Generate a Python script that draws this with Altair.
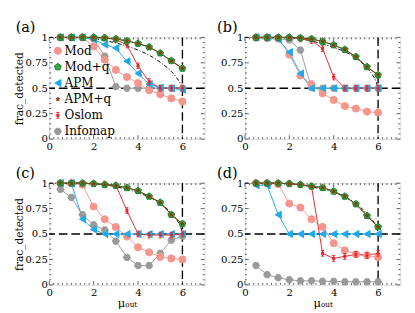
import altair as alt
import pandas as pd

FONT = "DejaVu Serif"

x_vals = [0.5, 1, 1.5, 2, 2.5, 3, 3.5, 4, 4.5, 5, 5.5, 6]
theory_x = [0, 0.5, 1, 1.5, 2, 2.5, 3, 3.5, 4, 4.5, 5, 5.5, 5.75, 5.9, 6]
x_ticks = [0, 2, 4, 6]
y_ticks = [0, 0.25, 0.5, 0.75, 1]
x_minor = [0.2, 0.4, 0.6, 0.8, 1.0, 1.2, 1.4, 1.6, 1.8, 2.2, 2.4, 2.6, 2.8, 3.0, 3.2, 3.4,
           3.6, 3.8, 4.2, 4.4, 4.6, 4.8, 5.0, 5.2, 5.4, 5.6, 5.8, 6.2, 6.4, 6.6, 6.8]
y_minor = [0.05, 0.1, 0.15, 0.2, 0.3, 0.35, 0.4, 0.45, 0.55, 0.6, 0.65, 0.7,
           0.8, 0.85, 0.9, 0.95]
threshold_x = 6
threshold_y = 0.5

series_names = ["Mod", "Mod+q", "APM", "APM+q", "Oslom", "Infomap"]
draw_order = ["Infomap", "Mod", "APM", "Oslom", "Mod+q", "APM+q"]

# panel (a)
a_mod = [1, 1, 1, 0.91, 0.78, 0.68, 0.61, 0.55, 0.48, 0.44, 0.40, 0.37]
a_modq = [1, 1, 1, 1, 0.995, 0.985, 0.965, 0.94, 0.905, 0.845, 0.77, 0.695]
a_apm = [1, 1, 1, 0.98, 0.93, 0.895, 0.765, 0.645, 0.54, 0.505, 0.50, 0.485]
a_apmq = [1, 1, 1, 1, 0.995, 0.985, 0.965, 0.94, 0.905, 0.845, 0.77, 0.695]
a_oslom = [1, 1, 1, 1, 0.995, 0.98, 0.925, 0.72, 0.565, 0.50, 0.50, 0.50]
a_oslom_err = [0.005, 0.005, 0.005, 0.005, 0.008, 0.01, 0.015, 0.02, 0.015, 0.008, 0.005, 0.005]
a_infomap = [1, 1, 1, 0.985, 0.815, 0.515, 0.50, 0.50, 0.50, 0.50, 0.50, 0.50]
a_theory = [1, 1, 1, 0.995, 0.985, 0.97, 0.945, 0.915, 0.875, 0.825, 0.755, 0.665, 0.60, 0.55, 0.50]

# panel (b)
b_mod = [1, 1, 0.99, 0.83, 0.625, 0.54, 0.45, 0.385, 0.325, 0.30, 0.27, 0.26]
b_modq = [1, 1, 1, 1, 0.995, 0.985, 0.96, 0.925, 0.88, 0.81, 0.71, 0.63]
b_apm = [1, 1, 0.98, 0.855, 0.645, 0.50, 0.50, 0.50, 0.50, 0.50, 0.50, 0.50]
b_apmq = [1, 1, 1, 1, 0.995, 0.985, 0.96, 0.925, 0.88, 0.81, 0.71, 0.63]
b_oslom = [1, 1, 1, 1, 0.985, 0.97, 0.89, 0.61, 0.50, 0.50, 0.50, 0.50]
b_oslom_err = [0.005, 0.005, 0.005, 0.008, 0.01, 0.012, 0.015, 0.015, 0.008, 0.005, 0.005, 0.005]
b_infomap = [0.995, 0.99, 0.985, 0.975, 0.875, 0.505, 0.50, 0.50, 0.50, 0.50, 0.50, 0.50]
b_theory = [1, 1, 1, 1, 0.995, 0.985, 0.965, 0.935, 0.90, 0.86, 0.795, 0.70, 0.63, 0.57, 0.50]

# panel (c)
c_mod = [1, 1, 0.985, 0.77, 0.645, 0.57, 0.475, 0.37, 0.32, 0.275, 0.26, 0.25]
c_modq = [1, 1, 1, 0.995, 0.985, 0.975, 0.955, 0.925, 0.87, 0.81, 0.69, 0.60]
c_apm = [1, 1, 0.645, 0.545, 0.50, 0.50, 0.50, 0.50, 0.50, 0.50, 0.50, 0.50]
c_apmq = [1, 1, 1, 0.995, 0.985, 0.975, 0.955, 0.925, 0.87, 0.81, 0.69, 0.60]
c_oslom = [1, 1, 1, 0.995, 0.99, 0.98, 0.73, 0.50, 0.49, 0.49, 0.49, 0.50]
c_oslom_err = [0.005, 0.005, 0.005, 0.005, 0.008, 0.01, 0.02, 0.012, 0.01, 0.01, 0.01, 0.01]
c_infomap = [0.94, 0.86, 0.69, 0.59, 0.54, 0.43, 0.27, 0.19, 0.19, 0.31, 0.44, 0.48]
c_theory = [1, 1, 1, 1, 0.995, 0.985, 0.965, 0.94, 0.905, 0.865, 0.80, 0.705, 0.64, 0.58, 0.52]

# panel (d)
d_mod = [1, 1, 0.99, 0.80, 0.76, 0.645, 0.57, 0.41, 0.34, 0.30, 0.29, 0.27]
d_modq = [1, 1, 1, 0.995, 0.985, 0.97, 0.955, 0.92, 0.87, 0.795, 0.68, 0.57]
d_apm = [0.98, 0.98, 0.69, 0.50, 0.50, 0.50, 0.50, 0.50, 0.50, 0.50, 0.50, 0.50]
d_apmq = [1, 1, 1, 0.995, 0.985, 0.97, 0.955, 0.92, 0.87, 0.795, 0.68, 0.57]
d_oslom = [1, 1, 1, 0.995, 0.985, 0.97, 0.31, 0.26, 0.28, 0.30, 0.29, 0.31]
d_oslom_err = [0.005, 0.005, 0.005, 0.005, 0.008, 0.01, 0.02, 0.015, 0.012, 0.012, 0.012, 0.015]
d_infomap = [0.19, 0.10, 0.07, 0.05, 0.04, 0.04, 0.035, 0.035, 0.03, 0.03, 0.03, 0.03]
d_theory = [1, 1, 1, 1, 0.995, 0.985, 0.965, 0.94, 0.91, 0.865, 0.80, 0.70, 0.635, 0.58, 0.52]

PENTAGON = "M0,-1L0.951,-0.309L0.588,0.809L-0.588,0.809L-0.951,-0.309Z"
STAR = ("M0,-0.55L0.13,-0.178L0.523,-0.17L0.209,0.068L0.323,0.445L0,0.22"
        "L-0.323,0.445L-0.209,0.068L-0.523,-0.17L-0.13,-0.178Z")
HEXAGON = "M1,0L0.5,0.866L-0.5,0.866L-1,0L-0.5,-0.866L0.5,-0.866Z"
IBEAM = "M-0.45,-0.8L0.45,-0.8M0,-0.8L0,0.8M-0.45,0.8L0.45,0.8M-0.3,-0.3L0.3,-0.3L0.3,0.3L-0.3,0.3Z"

shape_range = ["circle", PENTAGON, "triangle-left", STAR, IBEAM, HEXAGON]
fill_range = ["#F5958D", "#2FA940", "#1FA9EA", "#8B3A10", "#E8262C", "#9A9A9A"]
stroke_range = ["#F5958D", "#1C7A2B", "#1FA9EA", "#8B3A10", "#E8262C", "#9A9A9A"]
line_range = ["#F5958D", "#1C7A2B", "#1FA9EA", "#8B3A10", "#E8262C", "#9A9A9A"]

W = 162
H = 106


def series_enc():
    return dict(
        shape=alt.Shape("series:N", scale=alt.Scale(domain=series_names, range=shape_range),
                        legend=None),
        fill=alt.Fill("series:N", scale=alt.Scale(domain=series_names, range=fill_range),
                      legend=None),
        stroke=alt.Stroke("series:N", scale=alt.Scale(domain=series_names, range=stroke_range),
                          legend=None),
    )


def make_panel(label, dx, vals, err, theory, show_legend, ytitle, xtitle):
    rows = []
    for name in draw_order:
        for xv, yv in zip(x_vals, vals[name]):
            rows.append({"x": xv, "y": yv, "series": name})
    df = pd.DataFrame(rows)
    edf = pd.DataFrame({"x": x_vals,
                        "lo": [v - e for v, e in zip(vals["Oslom"], err)],
                        "hi": [v + e for v, e in zip(vals["Oslom"], err)]})
    tdf = pd.DataFrame({"x": theory_x, "y": theory})

    xaxis = alt.Axis(values=x_ticks, ticks=False, domain=False, grid=False,
                     labelFont=FONT, labelFontSize=10.5, labelColor="black",
                     labelPadding=3, labelFlush=False,
                     title=xtitle if xtitle else "",
                     titleFont=FONT, titleFontSize=12, titleFontWeight="normal",
                     titleColor="black", titlePadding=0)
    yaxis = alt.Axis(values=y_ticks, labelExpr="toString(datum.value)", ticks=False,
                     domain=False, grid=False,
                     labelFont=FONT, labelFontSize=10.5, labelColor="black",
                     labelPadding=2, labelFlush=False,
                     title=ytitle if ytitle else "",
                     titleFont=FONT, titleFontSize=11, titleFontWeight="normal",
                     titleColor="black", titlePadding=1)
    xs = alt.Scale(domain=[0, 7], nice=False, zero=False)
    ys = alt.Scale(domain=[0, 1], nice=False, zero=False)

    def X(f):
        return alt.X(f, type="quantitative", scale=xs, axis=xaxis)

    def Y(f):
        return alt.Y(f, type="quantitative", scale=ys, axis=yaxis)

    tick_style = dict(color="#333333", strokeWidth=0.8)
    xmaj = alt.Chart(pd.DataFrame({"x": x_ticks})).encode(x=X("x"))
    xmin = alt.Chart(pd.DataFrame({"x": x_minor})).encode(x=X("x"))
    ymaj = alt.Chart(pd.DataFrame({"y": y_ticks})).encode(y=Y("y"))
    ymin = alt.Chart(pd.DataFrame({"y": y_minor})).encode(y=Y("y"))
    tick_layers = [
        xmaj.mark_rule(**tick_style).encode(y=alt.value(H), y2=alt.value(H - 4)),
        xmaj.mark_rule(**tick_style).encode(y=alt.value(0), y2=alt.value(4)),
        xmin.mark_rule(**tick_style).encode(y=alt.value(H), y2=alt.value(H - 2)),
        xmin.mark_rule(**tick_style).encode(y=alt.value(0), y2=alt.value(2)),
        ymaj.mark_rule(**tick_style).encode(x=alt.value(0), x2=alt.value(4)),
        ymaj.mark_rule(**tick_style).encode(x=alt.value(W), x2=alt.value(W - 4)),
        ymin.mark_rule(**tick_style).encode(x=alt.value(0), x2=alt.value(2)),
        ymin.mark_rule(**tick_style).encode(x=alt.value(W), x2=alt.value(W - 2)),
    ]

    hrule = alt.Chart(pd.DataFrame({"y": [threshold_y]})).mark_rule(
        color="black", strokeWidth=1.4, strokeDash=[9, 4]).encode(y=Y("y"))
    vrule = alt.Chart(pd.DataFrame({"x": [threshold_x]})).mark_rule(
        color="black", strokeWidth=1.4, strokeDash=[9, 4]).encode(x=X("x"))
    theory_line = alt.Chart(tdf).mark_line(
        color="black", strokeWidth=1, strokeDash=[4, 2, 1, 2], interpolate="monotone"
    ).encode(x=X("x"), y=Y("y"))
    lines = alt.Chart(df).mark_line(strokeWidth=1).encode(
        x=X("x"), y=Y("y"),
        color=alt.Color("series:N", scale=alt.Scale(domain=series_names, range=line_range),
                        legend=None))
    ebars = alt.Chart(edf).mark_rule(color="#E8262C", strokeWidth=1).encode(
        x=X("x"), y=Y("lo"), y2="hi")
    pts = alt.Chart(df).mark_point(filled=True, size=55, strokeWidth=1, opacity=1).encode(
        x=X("x"), y=Y("y"), **series_enc())

    main = alt.layer(*tick_layers, hrule, vrule, theory_line, lines, ebars, pts)

    if show_legend:
        legdf = pd.DataFrame({"series": series_names, "row": list(range(len(series_names)))})
        ry = alt.Y("row:Q", scale=alt.Scale(domain=[0, len(series_names) - 1], range=[14, 98]),
                   axis=None)
        leg_pts = alt.Chart(legdf).mark_point(filled=True, size=55, strokeWidth=1,
                                              opacity=1).encode(
            x=alt.value(9), y=ry, **series_enc())
        leg_txt = alt.Chart(legdf).mark_text(align="left", baseline="middle", font=FONT,
                                             fontSize=12.5, color="black").encode(
            x=alt.value(16), y=ry, text="series:N")
        main = alt.layer(main, leg_pts, leg_txt).resolve_scale(y="independent")

    return main.properties(
        width=W, height=H,
        title=alt.TitleParams(label, anchor="start", frame="group", dx=dx, dy=7, fontSize=15,
                              font=FONT, fontWeight="normal", color="black", offset=4),
    )


def vals_of(mod, modq, apm, apmq, oslom, infomap):
    return {"Mod": mod, "Mod+q": modq, "APM": apm, "APM+q": apmq,
            "Oslom": oslom, "Infomap": infomap}


pa = make_panel("(a)", -35, vals_of(a_mod, a_modq, a_apm, a_apmq, a_oslom, a_infomap),
                a_oslom_err, a_theory, True, "frac_detected", None)
pb = make_panel("(b)", -29, vals_of(b_mod, b_modq, b_apm, b_apmq, b_oslom, b_infomap),
                b_oslom_err, b_theory, False, None, None)
pc = make_panel("(c)", -35, vals_of(c_mod, c_modq, c_apm, c_apmq, c_oslom, c_infomap),
                c_oslom_err, c_theory, False, "frac_detected", "μₒᵤₜ")
pd_ = make_panel("(d)", -29, vals_of(d_mod, d_modq, d_apm, d_apmq, d_oslom, d_infomap),
                 d_oslom_err, d_theory, False, None, "μₒᵤₜ")

top = alt.hconcat(pa, pb, spacing=10)
bottom = alt.hconcat(pc, pd_, spacing=10)
chart = alt.vconcat(top, bottom, spacing=13).configure_view(
    stroke="black", strokeWidth=1).configure(background="white")

chart.save("out.html", embed_options={"renderer": "svg", "actions": False})
